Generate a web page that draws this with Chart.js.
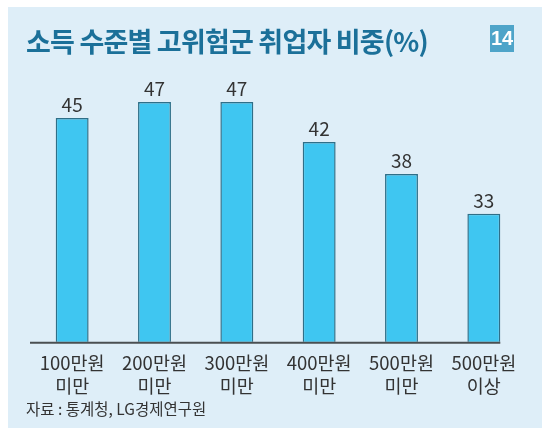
<!doctype html>
<html>
<head>
  <meta charset="utf-8">
  <title>소득 수준별 고위험군 취업자 비중</title>
  <script src="https://cdn.jsdelivr.net/npm/chart.js@4.4.1/dist/chart.umd.min.js"></script>
  <style>
    html, body { margin: 0; padding: 0; background: #fff; }
    #wrap { position: relative; width: 550px; height: 433px; overflow: hidden; }
    #panel { position: absolute; left: 8px; top: 7px; width: 534px; height: 421px; background: #deeef8; }
    #title { position: absolute; left: 26px; top: 21px; font: bold 27px "Noto Sans CJK KR", sans-serif; color: #1b7099; letter-spacing: -0.8px; white-space: nowrap; }
    #badge { position: absolute; left: 490px; top: 25px; width: 24px; height: 27px; background: #4ea4c9; color: #fff; font: bold 20px "Liberation Sans Narrow", "Liberation Sans", sans-serif; text-align: center; line-height: 27px; }
    #source { position: absolute; left: 26px; top: 397px; font: 15.5px "Noto Sans CJK KR", sans-serif; color: #333; white-space: nowrap; }
    #chart { position: absolute; left: 0; top: 0; }
  </style>
</head>
<body>
<div id="wrap">
  <div id="panel"></div>
  <canvas id="chart" width="550" height="433"></canvas>
  <div id="title">소득 수준별 고위험군 취업자 비중(%)</div>
  <div id="badge">14</div>
  <div id="source">자료 : 통계청, LG경제연구원</div>
</div>
<script>
  // income brackets, two-line labels
  const categories = [
    ['100만원', '미만'],
    ['200만원', '미만'],
    ['300만원', '미만'],
    ['400만원', '미만'],
    ['500만원', '미만'],
    ['500만원', '이상']
  ];
  const shares = [45, 47, 47, 42, 38, 33];

  // value labels above each bar + baseline under the bars
  const barExtras = {
    id: 'barExtras',
    afterDatasetsDraw(chart) {
      const ctx = chart.ctx;
      const bars = chart.getDatasetMeta(0).data;
      const y = chart.scales.y;
      ctx.save();
      ctx.fillStyle = '#333';
      ctx.font = '19px "Noto Sans CJK KR", sans-serif';
      ctx.textAlign = 'center';
      ctx.textBaseline = 'bottom';
      bars.forEach(function (bar, i) {
        ctx.fillText(shares[i], bar.x, bar.y - 4);
      });
      const last = bars[bars.length - 1];
      ctx.strokeStyle = '#4a4f52';
      ctx.lineWidth = 2;
      ctx.beginPath();
      ctx.moveTo(chart.chartArea.left - 1, y.bottom + 1);
      ctx.lineTo(last.x + last.width / 2, y.bottom + 1);
      ctx.stroke();
      ctx.restore();
    }
  };

  new Chart(document.getElementById('chart'), {
    type: 'bar',
    data: {
      labels: categories,
      datasets: [{
        data: shares,
        backgroundColor: '#3fc6f1',
        borderColor: '#2f6f88',
        borderWidth: 1.5,
        borderSkipped: 'bottom',
        barPercentage: 0.4,
        categoryPercentage: 1.0
      }]
    },
    options: {
      responsive: false,
      animation: false,
      layout: { padding: { left: 31, right: 25, top: 78, bottom: 33 } },
      plugins: { legend: { display: false }, tooltip: { enabled: false } },
      scales: {
        x: {
          grid: { display: false },
          border: { display: false },
          ticks: {
            color: '#333',
            padding: 2,
            maxRotation: 0,
            font: { family: '"Noto Sans CJK KR", sans-serif', size: 18.5, lineHeight: 1.25 }
          }
        },
        y: {
          display: false,
          min: 17,
          max: 50
        }
      }
    },
    plugins: [barExtras]
  });
</script>
</body>
</html>
